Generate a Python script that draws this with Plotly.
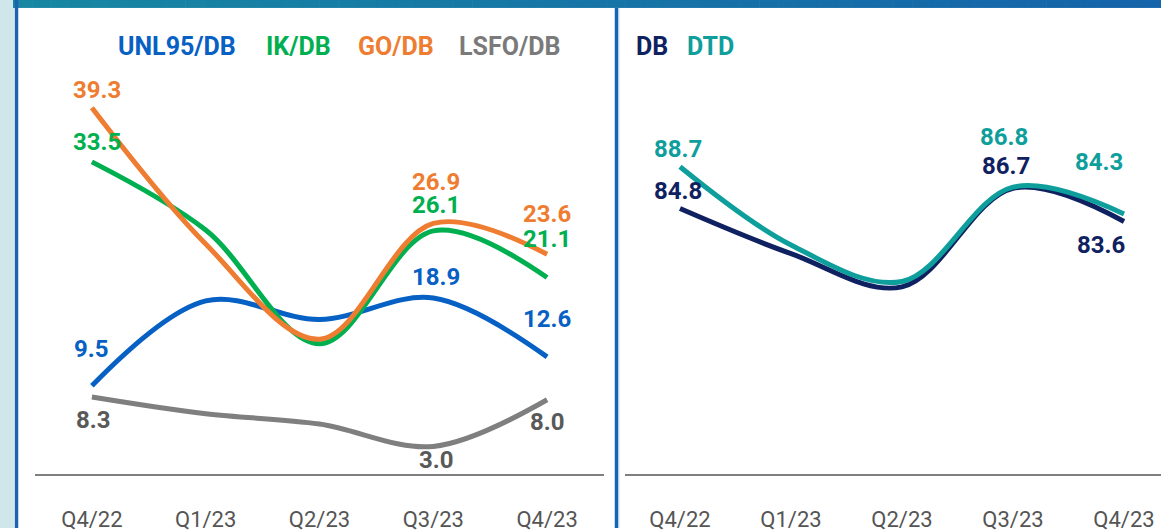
import plotly.graph_objects as go

# ---------------- data ----------------
categories = ["Q4/22", "Q1/23", "Q2/23", "Q3/23", "Q4/23"]

unl95_db = [9.5, 18.6, 16.6, 18.9, 12.6]
ik_db = [33.5, 26.2, 14.0, 26.1, 21.1]
go_db = [39.3, 24.7, 14.5, 26.9, 23.6]
lsfo_db = [8.3, 6.5, 5.4, 3.0, 8.0]

db = [84.8, 80.6, 77.5, 86.7, 83.6]
dtd = [88.7, 81.4, 78.0, 86.8, 84.3]

left_names = ["UNL95/DB", "IK/DB", "GO/DB", "LSFO/DB"]
right_names = ["DB", "DTD"]

# ---------------- style ----------------
W, H = 1161, 532
FONT = "Roboto"
C_UNL = "#0760C3"
C_IK = "#00B050"
C_GO = "#EE7D31"
C_LSFO = "#7F7F7F"
C_LSFO_TXT = "#595959"
C_DB = "#0F2160"
C_DTD = "#0E9E9C"

def px(x):
    return x / W

def py(y):
    return 1 - y / H

fig = go.Figure()

left = [
    (left_names[0], unl95_db, C_UNL),
    (left_names[1], ik_db, C_IK),
    (left_names[3], lsfo_db, C_LSFO),
    (left_names[2], go_db, C_GO),
]
for name, vals, col in left:
    fig.add_trace(go.Scatter(
        x=categories, y=vals, name=name, mode="lines",
        line=dict(color=col, width=5, shape="spline", smoothing=1),
        xaxis="x", yaxis="y", hoverinfo="skip", showlegend=False,
    ))

right = [(right_names[0], db, C_DB), (right_names[1], dtd, C_DTD)]
for name, vals, col in right:
    fig.add_trace(go.Scatter(
        x=categories, y=vals, name=name, mode="lines",
        line=dict(color=col, width=5, shape="spline", smoothing=1),
        xaxis="x2", yaxis="y2", hoverinfo="skip", showlegend=False,
    ))

# ---------------- value labels ----------------
# (values, index, color, xshift, yshift, axis-suffix)
label_specs = [
    (go_db, 0, C_GO, 5, 18, ""),
    (ik_db, 0, C_IK, 5, 20, ""),
    (unl95_db, 0, C_UNL, 0, 37, ""),
    (lsfo_db, 0, C_LSFO_TXT, 2, -23, ""),
    (go_db, 3, C_GO, 3, 41, ""),
    (ik_db, 3, C_IK, 3, 26, ""),
    (unl95_db, 3, C_UNL, 3, 21, ""),
    (lsfo_db, 3, C_LSFO_TXT, 3, -14, ""),
    (go_db, 4, C_GO, 0, 40, ""),
    (ik_db, 4, C_IK, 0, 39, ""),
    (unl95_db, 4, C_UNL, 0, 38, ""),
    (lsfo_db, 4, C_LSFO_TXT, 0, -22, ""),
    (dtd, 0, C_DTD, -2, 18, "2"),
    (db, 0, C_DB, -2, 18, "2"),
    (dtd, 3, C_DTD, -9, 50, "2"),
    (db, 3, C_DB, -7, 22, "2"),
    (dtd, 4, C_DTD, -25, 52, "2"),
    (db, 4, C_DB, -23, -24, "2"),
]
annotations = []
for vals, i, col, xs, ys, ax in label_specs:
    annotations.append(dict(
        x=categories[i], y=vals[i], xref="x" + ax, yref="y" + ax,
        text=f"{vals[i]:.1f}", showarrow=False, xshift=xs, yshift=ys,
        font=dict(family=FONT, size=24, color=col, weight="bold"),
        xanchor="center", yanchor="middle",
    ))

# ---------------- legend-like headers ----------------
legend_items = [
    (left_names[0], C_UNL, 177),
    (left_names[1], C_IK, 298),
    (left_names[2], C_GO, 396),
    (left_names[3], "#7A7A7A", 509),
    (right_names[0], C_DB, 652),
    (right_names[1], C_DTD, 710),
]
for txt, col, xc in legend_items:
    annotations.append(dict(
        x=px(xc), y=py(47), xref="paper", yref="paper", text=txt,
        showarrow=False, xanchor="center", yanchor="middle",
        font=dict(family=FONT, size=25, color=col, weight="bold"),
    ))

# ---------------- decorative frame ----------------
shapes = []
# left light strip
shapes.append(dict(type="rect", xref="paper", yref="paper", x0=0, x1=px(14),
                   y0=0, y1=1, fillcolor="#CFE6EB", line=dict(width=0), layer="below"))
# top gradient bar
c0 = (0x17, 0x87, 0xA2)
c1 = (0x15, 0x63, 0xAA)
N = 60
xs0, xs1 = 13, W
for k in range(N):
    t = k / (N - 1)
    c = tuple(round(a + (b - a) * t) for a, b in zip(c0, c1))
    xa = xs0 + (xs1 - xs0) * k / N
    xb = xs0 + (xs1 - xs0) * (k + 1) / N + 0.6
    shapes.append(dict(type="rect", xref="paper", yref="paper",
                       x0=px(xa), x1=px(min(xb, W)), y0=py(8), y1=1,
                       fillcolor="rgb(%d,%d,%d)" % c, line=dict(width=0)))
# vertical borders
shapes.append(dict(type="line", xref="paper", yref="paper", x0=px(16.5), x1=px(16.5),
                   y0=0, y1=1, line=dict(color="#1B62B0", width=3.5)))
shapes.append(dict(type="line", xref="paper", yref="paper", x0=px(616.5), x1=px(616.5),
                   y0=0, y1=py(8), line=dict(color="#1565B0", width=3.5)))
shapes.append(dict(type="line", xref="paper", yref="paper", x0=px(618.8), x1=px(618.8),
                   y0=0, y1=py(8), line=dict(color="#A8CCE8", width=1)))

ydom = [py(478), py(60)]
axis_common = dict(
    type="category", showline=True, linecolor="#7F7F7F", linewidth=2,
    showgrid=False, zeroline=False, ticks="outside", ticklen=24,
    tickcolor="rgba(0,0,0,0)", tickfont=dict(family=FONT, size=22, color="#555555"),
    fixedrange=True,
)

fig.update_layout(
    width=W, height=H, autosize=False,
    margin=dict(l=0, r=0, t=0, b=0),
    paper_bgcolor="white", plot_bgcolor="white",
    xaxis=dict(domain=[px(35), px(604)], range=[-0.5, 4.5], **axis_common),
    yaxis=dict(domain=ydom, range=[0, 418 / 9.4], visible=False, fixedrange=True),
    xaxis2=dict(domain=[px(624.5), 1.0], range=[-0.5, 4.333], anchor="y2", **axis_common),
    yaxis2=dict(domain=ydom, range=[60, 60 + 418 / 10.8], visible=False, anchor="x2",
                fixedrange=True),
    annotations=annotations,
    shapes=shapes,
    showlegend=False,
)

fig.write_html(
    "out.html",
    config={"displayModeBar": False},
    post_script="document.body.style.margin='0';document.body.style.overflow='hidden';",
)
